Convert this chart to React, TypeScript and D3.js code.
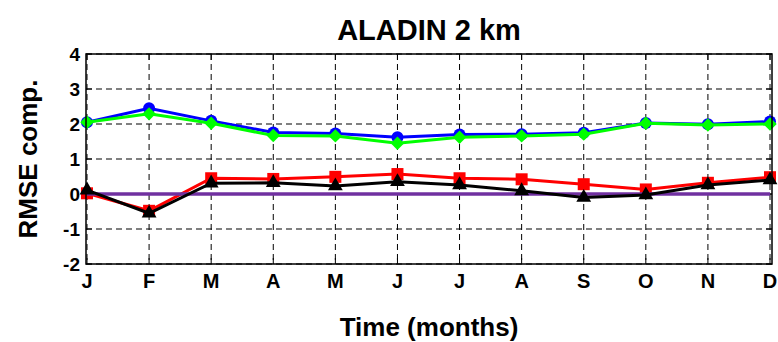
import React from "react";
import * as d3 from "d3";

// Month labels and monthly RMSE components
const months = ["J", "F", "M", "A", "M", "J", "J", "A", "S", "O", "N", "D"];
const blueSeries = [2.05, 2.45, 2.09, 1.76, 1.73, 1.62, 1.7, 1.71, 1.75, 2.03, 1.99, 2.07];
const greenSeries = [2.05, 2.29, 2.02, 1.67, 1.66, 1.45, 1.62, 1.66, 1.71, 2.02, 1.97, 2.0];
const redSeries = [0.02, -0.48, 0.45, 0.43, 0.49, 0.57, 0.45, 0.42, 0.28, 0.13, 0.32, 0.48];
const blackSeries = [0.11, -0.55, 0.31, 0.32, 0.23, 0.35, 0.26, 0.09, -0.1, -0.03, 0.26, 0.4];
const zeroSeries = [0, 0, 0, 0, 0, 0, 0, 0, 0, 0, 0, 0];
const yTicks = [-2, -1, 0, 1, 2, 3, 4];

const W = 778;
const H = 342;
const FONT = "'Liberation Sans', Arial, sans-serif";

export default function App() {
  const x = d3.scaleLinear().domain([1, 12]).range([87, 770]);
  const y = d3.scaleLinear().domain([-2, 4]).range([264, 54]);
  const boxL = 86;
  const boxR = 772;
  const boxT = y(4);
  const boxB = y(-2);
  const idx = months.map((_, i) => i + 1);

  const line = d3
    .line<number>()
    .x((_, i) => x(i + 1))
    .y((d) => y(d));

  const diamond = d3.symbol().type(d3.symbolDiamond2).size(115)() as string;
  const triangle = d3.symbol().type(d3.symbolTriangle).size(95)() as string;

  return (
    <svg
      width={W}
      height={H}
      style={{ position: "absolute", left: 0, top: 0, background: "#fff" }}
      fontFamily={FONT}
    >
      <rect x={0} y={0} width={W} height={H} fill="#fff" />
      {/* grid */}
      <g stroke="#000" strokeWidth={1} strokeDasharray="6,4">
        {idx.map((m) => (
          <line key={"vg" + m} x1={x(m)} x2={x(m)} y1={boxT} y2={boxB} />
        ))}
        {yTicks.map((t) => (
          <line key={"hg" + t} x1={boxL} x2={boxR} y1={y(t)} y2={y(t)} />
        ))}
      </g>
      {/* ticks on all sides */}
      <g stroke="#000" strokeWidth={1}>
        {idx.map((m) => (
          <g key={"xt" + m}>
            <line x1={x(m)} x2={x(m)} y1={boxB} y2={boxB - 6} />
            <line x1={x(m)} x2={x(m)} y1={boxT} y2={boxT + 6} />
          </g>
        ))}
        {yTicks.map((t) => (
          <g key={"yt" + t}>
            <line x1={boxL} x2={boxL + 6} y1={y(t)} y2={y(t)} />
            <line x1={boxR} x2={boxR - 6} y1={y(t)} y2={y(t)} />
          </g>
        ))}
      </g>

      {/* blue series with circles */}
      <path d={line(blueSeries) as string} fill="none" stroke="#0000ff" strokeWidth={3} />
      {blueSeries.map((v, i) => (
        <circle key={"b" + i} cx={x(i + 1)} cy={y(v)} r={6} fill="#0000ff" />
      ))}
      {/* green series with diamonds */}
      <path d={line(greenSeries) as string} fill="none" stroke="#00ff00" strokeWidth={3} />
      {greenSeries.map((v, i) => (
        <path key={"g" + i} d={diamond} transform={`translate(${x(i + 1)},${y(v)})`} fill="#00ff00" />
      ))}
      {/* red series with squares */}
      <path d={line(redSeries) as string} fill="none" stroke="#ff0000" strokeWidth={3} />
      {redSeries.map((v, i) => (
        <rect key={"r" + i} x={x(i + 1) - 6} y={y(v) - 6} width={12} height={12} fill="#ff0000" />
      ))}
      {/* zero reference */}
      <path d={line(zeroSeries) as string} fill="none" stroke="#7030a0" strokeWidth={3.5} />
      {/* black series with triangles */}
      <path d={line(blackSeries) as string} fill="none" stroke="#000" strokeWidth={3} />
      {blackSeries.map((v, i) => (
        <path key={"k" + i} d={triangle} transform={`translate(${x(i + 1)},${y(v)})`} fill="#000" />
      ))}

      {/* axes box */}
      <rect x={boxL} y={boxT} width={boxR - boxL} height={boxB - boxT} fill="none" stroke="#000" strokeWidth={1.5} />

      {/* tick labels */}
      <g fontWeight="bold" fill="#000">
        {yTicks.map((t) => (
          <text key={"yl" + t} x={80} y={y(t)} dy="0.36em" textAnchor="end" fontSize={19}>
            {t}
          </text>
        ))}
        {months.map((m, i) => (
          <text key={"xl" + i} x={x(i + 1)} y={288} textAnchor="middle" fontSize={20}>
            {m}
          </text>
        ))}
      </g>

      {/* titles */}
      <text x={(boxL + boxR) / 2} y={40} textAnchor="middle" fontWeight="bold" fontSize={29}>
        ALADIN 2 km
      </text>
      <text x={(boxL + boxR) / 2} y={336} textAnchor="middle" fontWeight="bold" fontSize={26}>
        Time (months)
      </text>
      <text
        transform={`translate(37,${(boxT + boxB) / 2}) rotate(-90)`}
        textAnchor="middle"
        fontWeight="bold"
        fontSize={26}
      >
        RMSE comp.
      </text>
    </svg>
  );
}
